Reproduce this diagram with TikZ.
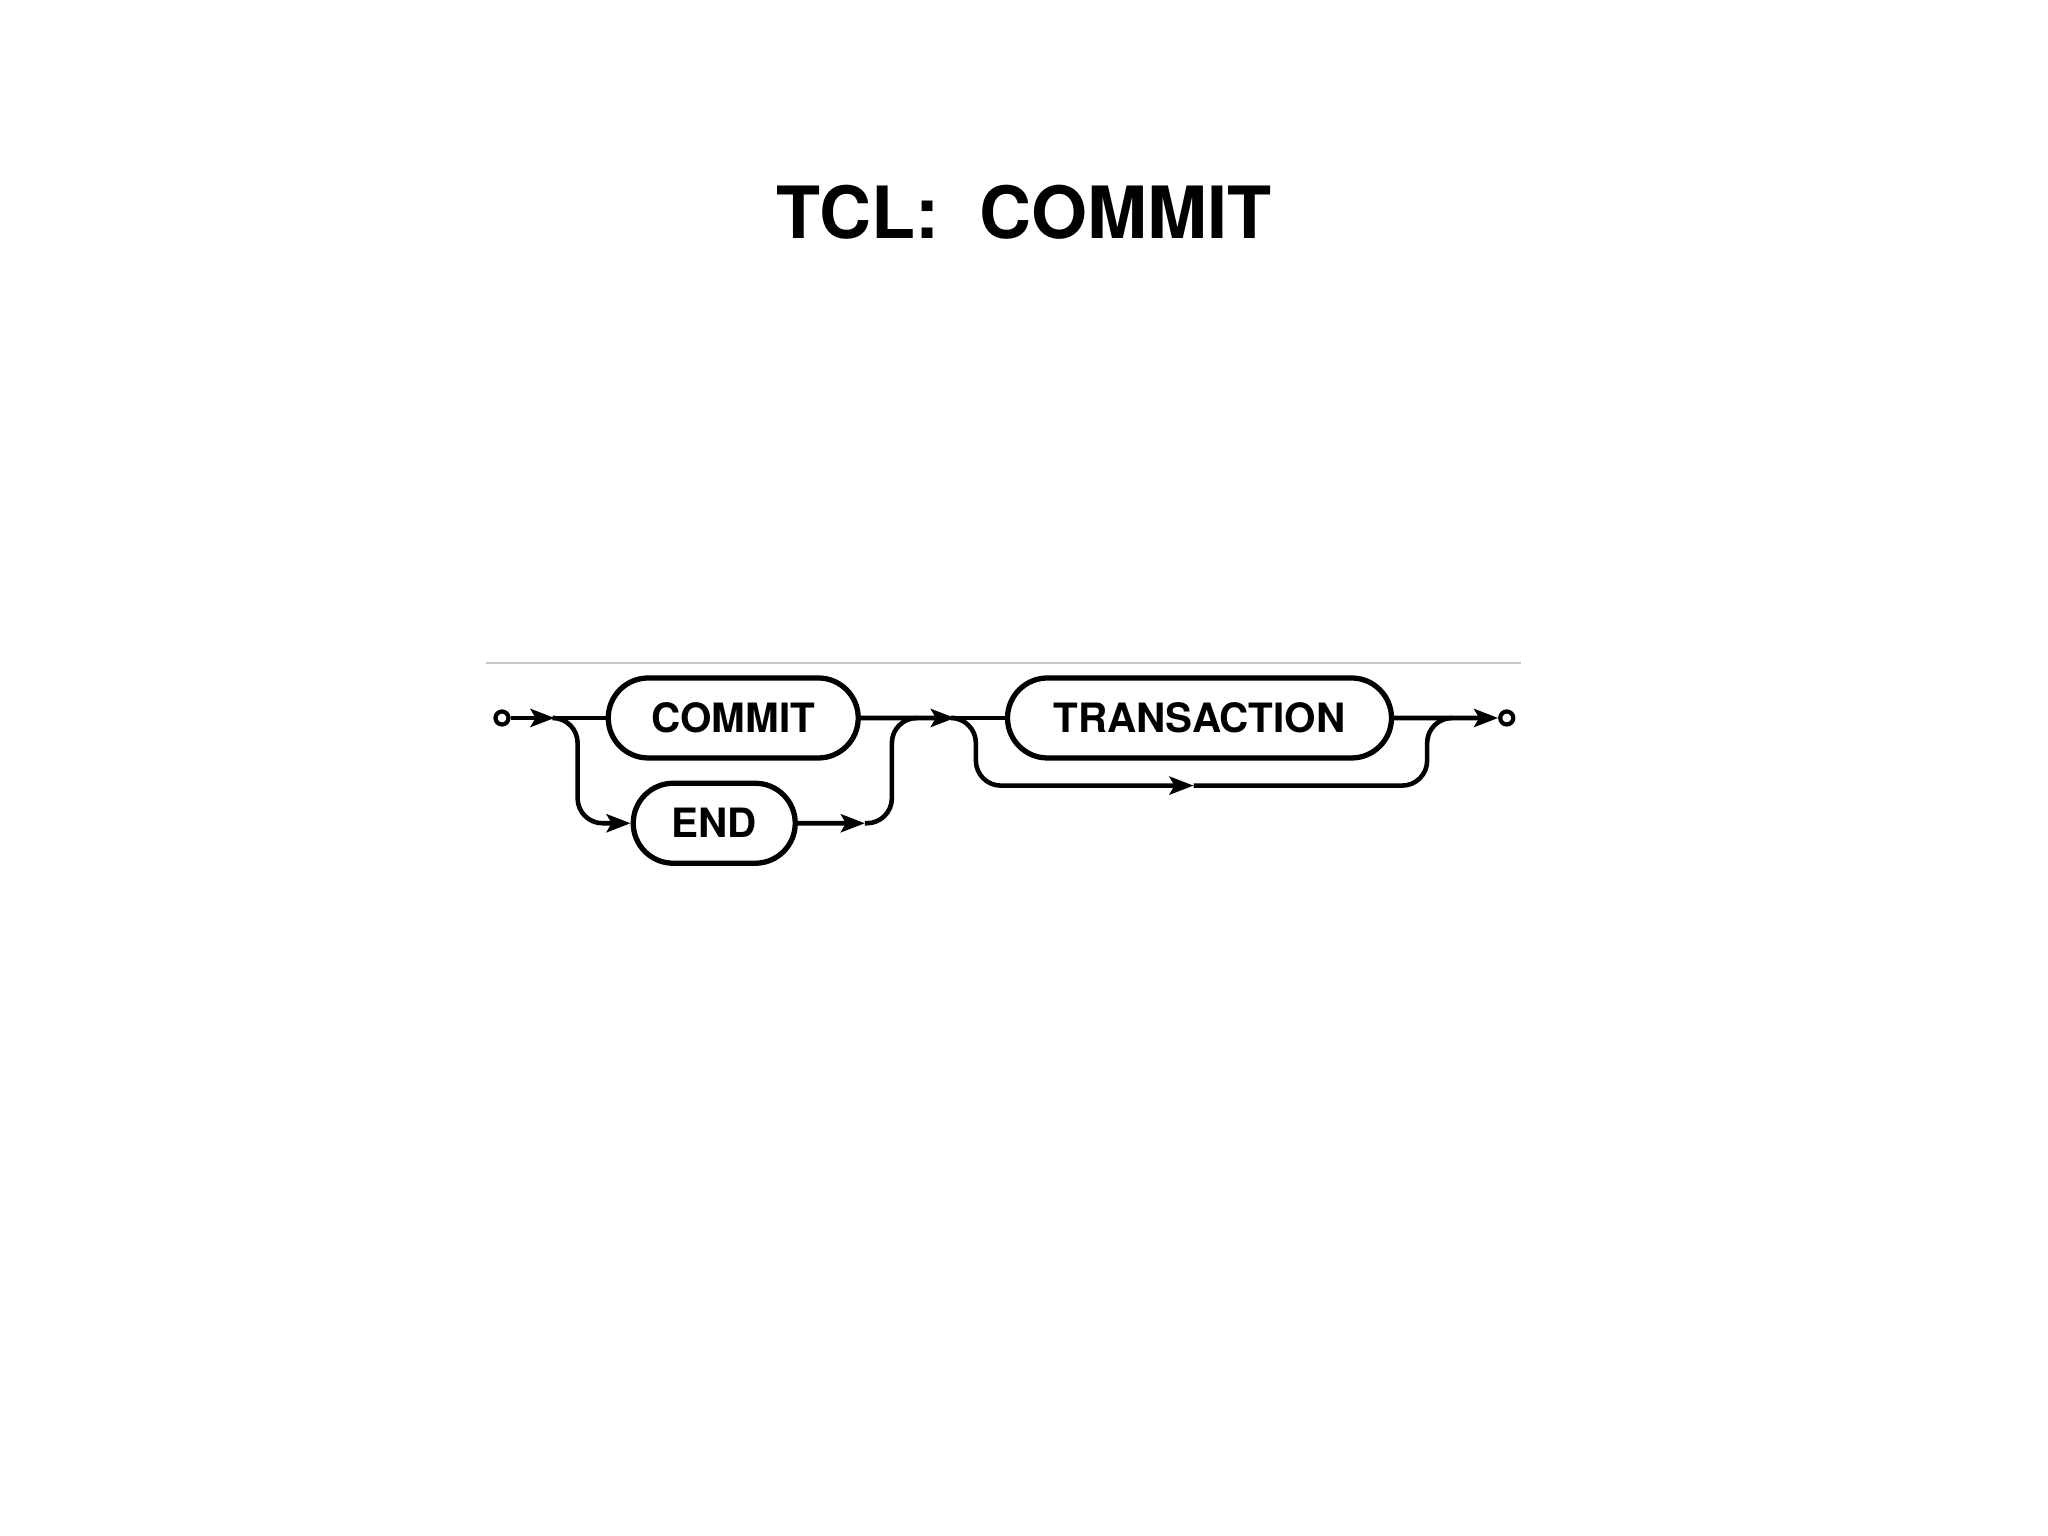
\documentclass[tikz,border=0pt]{standalone}
\usepackage{fontspec}
\setmainfont{TeX Gyre Heros}
\usetikzlibrary{shapes.misc, arrows.meta, positioning, calc}

\begin{document}
\begin{tikzpicture}[
    font=\bfseries,
    node distance=1cm,
    keyword/.style={rounded rectangle, draw=black, line width=1.5pt, minimum height=8mm, inner xsep=0pt, font=\fontsize{11.5}{13}\selectfont\bfseries},
    dot/.style={circle, draw=black, line width=1.2pt, inner sep=0pt, minimum size=1.3mm},
    line/.style={draw=black, line width=1.3pt},
    arrow/.style={line, -{Stealth[length=2.4mm, width=1.8mm, inset=0.5mm]}},
    sepline/.style={draw=black!22, line width=0.6pt}
]
\useasboundingbox (0,0) rectangle (20.48,15.36);

% Title
\node[font=\fontsize{20.5}{24}\selectfont\bfseries] (title) at (10.24,13.24) {TCL:\ \ COMMIT};

% Syntax diagram
\draw[sepline] (4.86,8.73) -- (15.21,8.73);
\node[dot] (start) at (5.02,8.18) {};
\node[keyword, minimum width=2.5cm, right=9.5mm of start] (commit) {COMMIT};
\node[keyword, minimum width=1.62cm, below=2mm of commit, xshift=-1.9mm] (end) {END};
\node[keyword, minimum width=3.84cm, right=14.4mm of commit] (trans) {TRANSACTION};
\node[dot, right=10.4mm of trans] (finish) {};

\coordinate[right=4.4mm of start] (fork1);
\coordinate[left=5.3mm of end] (drop1);
\coordinate[right=9.4mm of commit] (join1);
\coordinate[right=6.7mm of end] (endout);
\coordinate[right=3.1mm of commit] (merge1);
\coordinate[below=2.5mm of trans] (skip);
\coordinate[right=3.3mm of trans] (merge2);

% COMMIT or END
\draw[arrow] (start) -- (fork1);
\draw[line] (fork1) -- (commit);
\draw[arrow, rounded corners=2.5mm] (fork1) -| (drop1) -- (end);
\draw[arrow] (commit) -- (join1);
\draw[arrow] (end) -- (endout);
\draw[line, rounded corners=2.5mm] (endout) -| (merge1) -- ++(2.5mm,0);

% optional TRANSACTION
\draw[line] (join1) -- (trans);
\draw[arrow, rounded corners=2.5mm] (join1) -| ($(trans.west |- skip)+(-2.9mm,0)$) -- ($(skip)+(-0.6mm,0)$);
\draw[line, rounded corners=2.5mm] ($(skip)+(-0.6mm,0)$) -| (merge2) -- ++(2.5mm,0);
\draw[arrow] (trans) -- (finish);

\end{tikzpicture}
\end{document}
